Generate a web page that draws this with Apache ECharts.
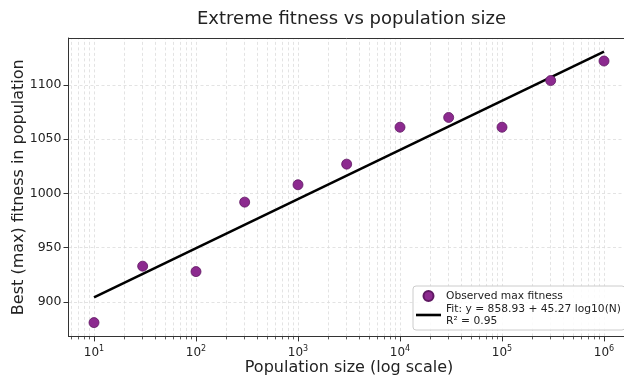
<!DOCTYPE html>
<html>
<head>
<meta charset="utf-8">
<script src="https://cdn.jsdelivr.net/npm/echarts@6/dist/echarts.min.js"></script>
<style>html,body{margin:0;padding:0;background:#fff}#c{width:624px;height:375px}</style>
</head>
<body>
<div id="c"></div>
<script>
// ---- data ----
const populationSizes = [10, 30, 100, 300, 1000, 3000, 10000, 30000, 100000, 300000, 1000000];
const maxFitness = [881, 933, 928, 992, 1008, 1027, 1061, 1070, 1061, 1104, 1122];
const fitIntercept = 858.93;
const fitSlope = 45.27;
const xMajorTicks = [10, 100, 1000, 10000, 100000, 1000000];
const yTicks = [900, 950, 1000, 1050, 1100];
const titleText = 'Extreme fitness vs population size';
const xLabel = 'Population size (log scale)';
const yLabel = 'Best (max) fitness in population';
const scatterName = 'Observed max fitness';
const fitName = 'Fit: y = 858.93 + 45.27 log10(N)\nR\u00b2 = 0.95';

// ---- derived ----
const xMin = Math.pow(10, 0.75), xMax = Math.pow(10, 6.25);
const yMin = 868.3, yMax = 1143.2;
const xMinorTicks = [];
for (let e = 0; e <= 6; e++) {
  for (let k = 2; k <= 9; k++) {
    const v = k * Math.pow(10, e);
    if (v >= xMin && v <= xMax) xMinorTicks.push(v);
  }
}
const scatterData = populationSizes.map((n, i) => [n, maxFitness[i]]);
const fitX = [populationSizes[0], populationSizes[populationSizes.length - 1]];
const fitData = fitX.map(n => [n, fitIntercept + fitSlope * Math.log10(n)]);

const font = 'DejaVu Sans';
const gridStyle = { color: '#dcdcdc', width: 0.8, type: [3, 2.5] };
const gridLines = [];
xMajorTicks.concat(xMinorTicks).forEach(v => gridLines.push({ xAxis: v }));
yTicks.forEach(v => gridLines.push({ yAxis: v }));

const chart = echarts.init(document.getElementById('c'), null, { renderer: 'canvas' });
chart.setOption({
  animation: false,
  backgroundColor: '#fff',
  textStyle: { fontFamily: font },
  title: {
    text: titleText, left: 192, top: 5,
    textStyle: { fontFamily: font, fontSize: 18, fontWeight: 'normal', color: '#222' }
  },
  grid: { left: 68.5, top: 38, width: 561, height: 298.4, containLabel: false,
          outerBoundsMode: 'none', show: false },
  legend: {
    orient: 'vertical', left: 413, top: 286,
    padding: [4, 4, 3, 3], itemGap: 1, itemWidth: 25, itemHeight: 10,
    backgroundColor: 'rgba(255,255,255,0.85)', borderColor: '#cccccc', borderWidth: 1, borderRadius: 3,
    textStyle: { fontFamily: font, fontSize: 10.7, color: '#222', lineHeight: 12 },
    data: [
      { name: scatterName, icon: 'circle' },
      { name: fitName, icon: 'path://M0,0 L25,0 L25,2.6 L0,2.6 Z', itemStyle: { color: '#000', borderWidth: 0 } }
    ]
  },
  xAxis: [{
    type: 'log', logBase: 10, min: xMin, max: xMax,
    axisLine: { show: true, onZero: false, lineStyle: { color: '#333', width: 1 } },
    axisTick: { show: true, length: 5, customValues: xMajorTicks, lineStyle: { color: '#333' } },
    axisLabel: {
      customValues: xMajorTicks, margin: 9, color: '#222', fontFamily: font, fontSize: 12,
      formatter: v => '10{s|' + Math.round(Math.log10(v)) + '}',
      rich: { s: { fontSize: 8, fontFamily: font, color: '#222', verticalAlign: 'top', padding: [0, 0, 7, 0] } }
    },
    splitLine: { show: false },
    name: xLabel, nameLocation: 'middle', nameGap: 23, nameMoveOverlap: false,
    nameTextStyle: { fontFamily: font, fontSize: 16, color: '#222' }
  }, {
    type: 'log', logBase: 10, min: xMin, max: xMax, position: 'bottom',
    axisLine: { show: false },
    axisTick: { show: true, length: 3, customValues: xMinorTicks, lineStyle: { color: '#333', width: 0.8 } },
    axisLabel: { show: false },
    splitLine: { show: false }
  }, {
    type: 'log', logBase: 10, min: xMin, max: xMax, position: 'top',
    axisLine: { show: true, lineStyle: { color: '#333', width: 1 } },
    axisTick: { show: false }, axisLabel: { show: false }, splitLine: { show: false }
  }],
  yAxis: {
    type: 'value', min: yMin, max: yMax,
    axisLine: { show: true, onZero: false, lineStyle: { color: '#333', width: 1 } },
    axisTick: { show: true, length: 5, customValues: yTicks, lineStyle: { color: '#333' } },
    axisLabel: { customValues: yTicks, margin: 7, color: '#222', fontFamily: font, fontSize: 12.5,
                 formatter: v => String(v) },
    splitLine: { show: false },
    name: yLabel, nameLocation: 'middle', nameGap: 41.5, nameMoveOverlap: false,
    nameTextStyle: { fontFamily: font, fontSize: 16, color: '#222' }
  },
  series: [{
    type: 'line', name: '_grid', data: [], silent: true, z: 0,
    markLine: {
      silent: true, symbol: 'none', label: { show: false }, z: 0, zlevel: 0,
      lineStyle: gridStyle, emphasis: { disabled: true },
      data: gridLines, animation: false
    }
  }, {
    type: 'scatter', name: scatterName, data: scatterData, symbolSize: 10, z: 3,
    itemStyle: { color: '#8c2a8f', borderColor: '#5f1862', borderWidth: 0.8, opacity: 1 }
  }, {
    type: 'line', name: fitName, data: fitData, symbol: 'none', z: 2,
    lineStyle: { color: '#000', width: 2.5 }, itemStyle: { color: '#000' }
  }]
});
</script>
</body>
</html>
